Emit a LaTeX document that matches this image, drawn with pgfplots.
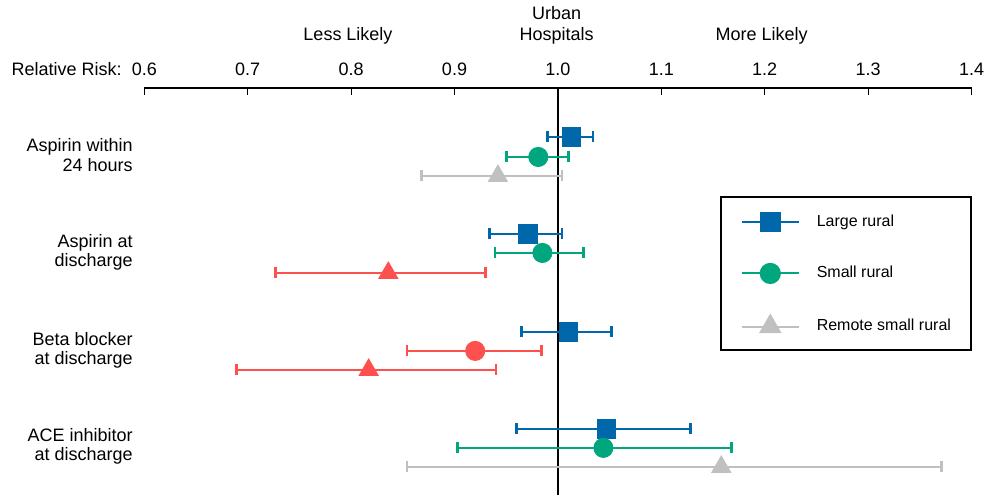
\documentclass[border=0pt]{standalone}
\usepackage{fontspec}
\setmainfont{Liberation Sans}
\usepackage{pgfplots}
\pgfplotsset{compat=1.18}
\definecolor{lrblue}{RGB}{0,104,170}
\definecolor{srgreen}{RGB}{0,166,126}
\definecolor{rsgray}{RGB}{192,192,192}
\definecolor{sigred}{RGB}{255,80,80}
\begin{document}
\begin{tikzpicture}[font=\fontsize{9}{10}\selectfont]
\begin{axis}[
  scale only axis, width=413.7pt, height=203.5pt,
  xmin=0.6, xmax=1.4, ymin=-495, ymax=-88,
  axis x line=top, axis y line=none,
  x axis line style={-, line width=1pt},
  xtick={0.6,0.7,0.8,0.9,1.0,1.1,1.2,1.3,1.4},
  xticklabels={0.6,0.7,0.8,0.9,1.0,1.1,1.2,1.3,1.4},
  xticklabel style={anchor=base, yshift=6pt, font=\fontsize{9}{10}\selectfont},
  tick align=inside, major tick length=3.3pt,
  tick style={line width=0.6pt, black},
  clip=false,
  legend style={at={(axis cs:1.4,-196)}, anchor=north east, draw=black, line width=1pt,
    fill=white, inner xsep=9.75pt, inner ysep=8pt, row sep=16.25pt, column sep=8.5pt,
    nodes={inner sep=0pt},
    font=\fontsize{8}{9.5}\selectfont},
  legend cell align=left,
  legend image code/.code={
    \draw[line width=1pt] (0pt,0pt) -- (28.5pt,0pt);
    \draw[only marks] plot coordinates {(14.25pt,0pt)};
  },
  every axis plot/.append style={only marks},
  error bars/error bar style={line width=1pt},
  error bars/error mark options={line width=1.3pt, mark size=2.75pt, rotate=90},
]
% invisible bounding box matching the reference canvas
\path (axis cs:0.46044,0) rectangle (axis cs:1.41982,-495);
% reference line at 1.0
\addplot[forget plot, no marks, sharp plot, black, line width=1pt] coordinates {(1,-88) (1,-495)};

% Large rural
\addplot[lrblue, mark=square*, mark size=4.6pt,
  error bars/.cd, x dir=both, x explicit] coordinates {
  (1.013,-137) += (0.021,0) -= (0.023,0)
  (0.971,-234) += (0.033,0) -= (0.037,0)
  (1.010,-332) += (0.042,0) -= (0.045,0)
  (1.047,-429) += (0.081,0) -= (0.087,0)
};
\addlegendentry{Large rural}
% Small rural
\addplot[srgreen, mark=*, mark size=4.8pt,
  error bars/.cd, x dir=both, x explicit] coordinates {
  (0.981,-157) += (0.029,0) -= (0.031,0)
  (0.985,-253) += (0.040,0) -= (0.046,0)
  (1.044,-448) += (0.124,0) -= (0.141,0)
};
\addlegendentry{Small rural}
% Remote small rural
\addplot[rsgray, mark=triangle*, mark size=5.5pt,
  error bars/.cd, x dir=both, x explicit] coordinates {
  (0.942,-176) += (0.062,0) -= (0.074,0)
  (1.158,-467) += (0.213,0) -= (0.304,0)
};
\addlegendentry{Remote small rural}
% Significant (red) results
\addplot[forget plot, sigred, mark=*, mark size=4.8pt,
  error bars/.cd, x dir=both, x explicit] coordinates {
  (0.920,-351) += (0.064,0) -= (0.066,0)
};
\addplot[forget plot, sigred, mark=triangle*, mark size=5.5pt,
  error bars/.cd, x dir=both, x explicit] coordinates {
  (0.836,-273) += (0.094,0) -= (0.109,0)
  (0.817,-370) += (0.123,0) -= (0.128,0)
};

% headings
\begin{scope}[every node/.style={inner sep=0pt}]
\node[anchor=base east] at (axis cs:0.5784,-76) {Relative Risk:};
\node[anchor=base] at (axis cs:0.797,-41) {Less Likely};
\node[anchor=base] at (axis cs:1.197,-41) {More Likely};
\node[anchor=base] at (axis cs:0.9987,-20) {Urban};
\node[anchor=base] at (axis cs:0.9987,-41) {Hospitals};
% category labels
\node[anchor=base east] at (axis cs:0.5891,-152) {Aspirin within};
\node[anchor=base east] at (axis cs:0.5891,-172) {24 hours};
\node[anchor=base east] at (axis cs:0.5891,-248) {Aspirin at};
\node[anchor=base east] at (axis cs:0.5891,-267) {discharge};
\node[anchor=base east] at (axis cs:0.5891,-346) {Beta blocker};
\node[anchor=base east] at (axis cs:0.5891,-365) {at discharge};
\node[anchor=base east] at (axis cs:0.5891,-442) {ACE inhibitor};
\node[anchor=base east] at (axis cs:0.5891,-461) {at discharge};
\end{scope}
\end{axis}
\end{tikzpicture}
\end{document}
